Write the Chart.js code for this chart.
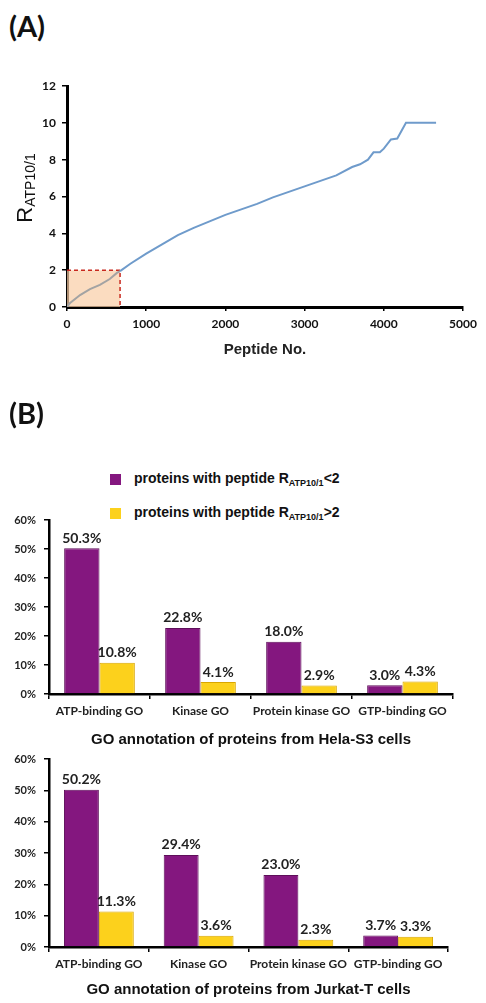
<!DOCTYPE html>
<html lang="en">
<head>
<meta charset="UTF-8">
<title>Peptide ratio and GO annotation</title>
<script src="https://cdn.jsdelivr.net/npm/chart.js"></script>
<style>
  body { margin: 0; width: 486px; height: 1003px; position: relative; background: #fff; overflow: hidden;
         font-family: "Liberation Sans", Arial, sans-serif; color: #111; }
  .panel { position: absolute; left: 9px; font-family: Lato, sans-serif; font-weight: bold; font-size: 29px; line-height: 1; }
  .box { position: absolute; left: 0; width: 486px; }
  .ytitle { position: absolute; left: 25px; top: 188px; transform: translate(-50%, -50%) rotate(-90deg);
            white-space: nowrap; font-size: 22px; color: #111; }
  .ytitle sub { font-size: 14px; vertical-align: -3px; }
  .legend { position: absolute; left: 110px; font-weight: bold; font-size: 14px; }
  .legend div { display: flex; align-items: center; height: 20px; white-space: nowrap; }
  .legend i { display: inline-block; width: 11px; height: 11px; margin-right: 13px; }
  .legend sub { font-size: 9px; vertical-align: -3px; }
</style>
</head>
<body>

<div class="panel" style="top:11px">(A)</div>
<div class="box" style="top:70px; height:300px"><canvas id="ratioChart"></canvas></div>
<div class="ytitle">R<sub>ATP10/1</sub></div>

<div class="panel" style="top:398px">(B)</div>
<div class="legend" style="top:469px">
  <div><i style="background:#84177f"></i><span>proteins with peptide R<sub>ATP10/1</sub>&lt;2</span></div>
  <div style="margin-top:14px"><i style="background:#fcd11c"></i><span>proteins with peptide R<sub>ATP10/1</sub>&gt;2</span></div>
</div>
<div class="box" style="top:510px; height:240px"><canvas id="helaChart"></canvas></div>
<div class="box" style="top:750px; height:253px"><canvas id="jurkatChart"></canvas></div>

<script>
// (A) sorted peptide ratios
const peptideNo = [0, 35, 165, 290, 415, 540, 630, 670, 800, 1000, 1200, 1400, 1600, 1800, 2000, 2200, 2400,
                   2600, 2800, 3000, 3200, 3400, 3600, 3700, 3800, 3870, 3950, 4000, 4090, 4170, 4280, 4660];
const ratio = [0, 0.2, 0.65, 0.97, 1.2, 1.52, 1.85, 1.95, 2.35, 2.9, 3.4, 3.9, 4.3, 4.65, 5.0, 5.3, 5.6,
               5.95, 6.25, 6.55, 6.85, 7.15, 7.6, 7.75, 8.0, 8.4, 8.4, 8.6, 9.1, 9.15, 10, 10];
const boxX = [0, 670, 670];
const boxY = [2, 2, 0];

// (B) GO annotation
const goTerms = ['ATP-binding GO', 'Kinase GO', 'Protein kinase GO', 'GTP-binding GO'];
const helaLow = [50.3, 22.8, 18.0, 3.0];
const helaHigh = [10.8, 4.1, 2.9, 4.3];
const jurkatLow = [50.2, 29.4, 23.0, 3.7];
const jurkatHigh = [11.3, 3.6, 2.3, 3.3];

const grayEnd = 670;

Chart.defaults.font.family = 'Lato, sans-serif';
Chart.defaults.color = '#111';
Chart.defaults.animation = false;

function fixW(w) {
  return s => { s.width = w; s.paddingTop = 0; s.paddingBottom = 0; };
}
function fixH(h) {
  return s => { s.height = h; s.paddingLeft = 0; s.paddingRight = 0; };
}

new Chart(document.getElementById('ratioChart'), {
  type: 'line',
  data: {
    datasets: [{
      data: peptideNo.map((x, i) => ({ x: x, y: ratio[i] })),
      borderWidth: 2,
      pointRadius: 0,
      borderColor: '#6f9bcb',
      segment: { borderColor: c => c.p1.parsed.x <= grayEnd ? '#a3a3a3' : '#6f9bcb' },
      order: 1
    }, {
      data: boxX.map((x, i) => ({ x: x, y: boxY[i] })),
      borderWidth: 1.5,
      borderDash: [4, 3],
      borderColor: '#c8281e',
      backgroundColor: 'rgba(250, 205, 165, 0.7)',
      fill: 'origin',
      pointRadius: 0,
      order: 2
    }]
  },
  options: {
    responsive: true,
    maintainAspectRatio: false,
    layout: { padding: { left: 0, right: 23, top: 16, bottom: 0 } },
    plugins: { legend: { display: false }, tooltip: { enabled: false } },
    scales: {
      x: {
        type: 'linear', min: 0, max: 5000,
        ticks: { stepSize: 1000, padding: 6, callback: v => String(v), font: { size: 12, weight: 'bold' } },
        grid: { drawOnChartArea: false, tickLength: 4, color: '#000', lineWidth: 1.5 },
        border: { color: '#000', width: 3 },
        title: { display: true, text: 'Peptide No.', padding: { top: 0, bottom: 11 },
                 font: { family: '"Liberation Sans", Arial, sans-serif', size: 15, weight: 'bold' }, color: '#222' },
        afterFit: fixH(63)
      },
      y: {
        min: 0, max: 12,
        ticks: { stepSize: 2, padding: 6, font: { size: 12, weight: 'bold' } },
        grid: { drawOnChartArea: false, tickLength: 5, color: '#000', lineWidth: 1.5 },
        border: { color: '#000', width: 3 },
        afterFit: fixW(67)
      }
    }
  }
});

const barLabels = {
  id: 'barLabels',
  afterDatasetsDraw(chart) {
    const ctx = chart.ctx;
    ctx.save();
    ctx.font = 'bold 14px Lato, sans-serif';
    ctx.fillStyle = '#222';
    ctx.textAlign = 'center';
    ctx.textBaseline = 'bottom';
    chart.data.datasets.forEach((ds, i) => {
      chart.getDatasetMeta(i).data.forEach((bar, j) => {
        ctx.fillText(ds.data[j].toFixed(1) + '%', bar.x, bar.y - 3);
      });
    });
    ctx.restore();
  }
};

function goChart(id, low, high, title, pad, xh, titlePad) {
  new Chart(document.getElementById(id), {
    type: 'bar',
    data: {
      labels: goTerms,
      datasets: [
        { data: low, backgroundColor: '#84177f', borderColor: '#5e0f5a', borderWidth: 1 },
        { data: high, backgroundColor: '#fcd11c', borderColor: '#d9a600', borderWidth: 1 }
      ]
    },
    options: {
      responsive: true,
      maintainAspectRatio: false,
      layout: { padding: pad },
      datasets: { bar: { categoryPercentage: 0.7, barPercentage: 1.0 } },
      plugins: { legend: { display: false }, tooltip: { enabled: false } },
      scales: {
        x: {
          ticks: { padding: 5, maxRotation: 0, minRotation: 0, autoSkip: false,
                   font: { size: 12, weight: 'bold' }, color: '#222' },
          grid: { drawOnChartArea: false, tickLength: 5, color: '#000', lineWidth: 1.5 },
          border: { color: '#000', width: 2.5 },
          title: { display: true, text: title, padding: { top: 0, bottom: titlePad },
                   font: { family: '"Liberation Sans", Arial, sans-serif', size: 15, weight: 'bold' }, color: '#111' },
          afterFit: fixH(xh)
        },
        y: {
          min: 0, max: 60,
          ticks: { stepSize: 10, padding: 8, callback: v => v + '%', font: { size: 11, weight: 'bold' }, color: '#222' },
          grid: { drawOnChartArea: false, tickLength: 5, color: '#000', lineWidth: 1.5 },
          border: { color: '#000', width: 2.5 },
          afterFit: fixW(49)
        }
      }
    },
    plugins: [barLabels]
  });
}

goChart('helaChart', helaLow, helaHigh, 'GO annotation of proteins from Hela-S3 cells',
        { left: 0, right: 33, top: 10, bottom: 0 }, 56, 1);
goChart('jurkatChart', jurkatLow, jurkatHigh, 'GO annotation of proteins from Jurkat-T cells',
        { left: 0, right: 38, top: 9, bottom: 0 }, 56, 4);
</script>
</body>
</html>
